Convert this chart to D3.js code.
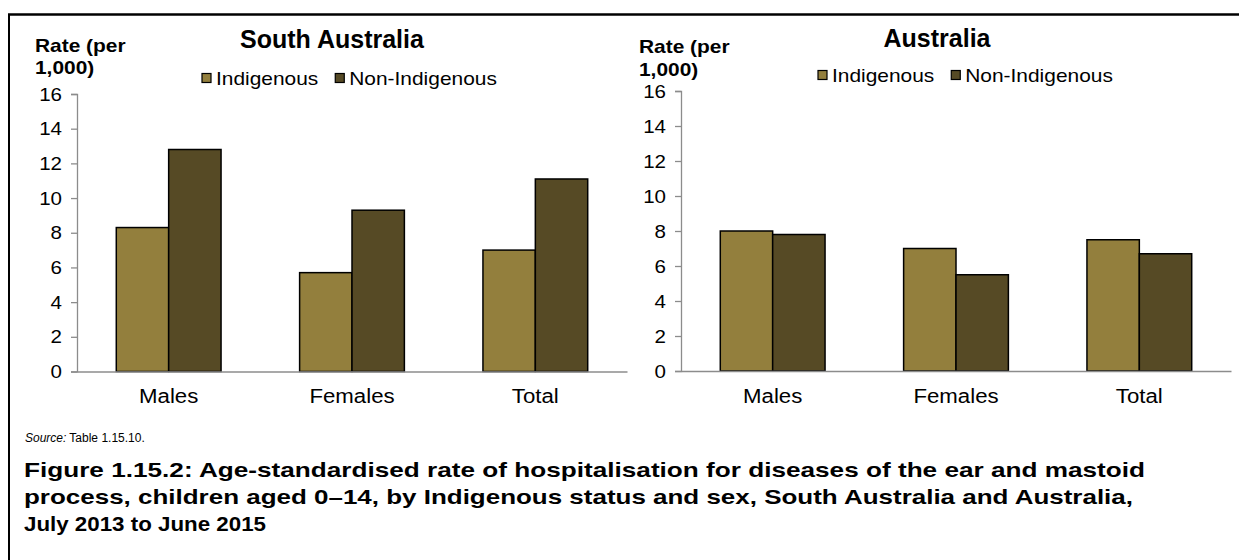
<!DOCTYPE html>
<html>
<head>
<meta charset="utf-8">
<script src="https://cdn.jsdelivr.net/npm/d3@7"></script>
<style>
  html, body { margin: 0; padding: 0; background: #fff; }
  svg { display: block; font-family: Arial, "Liberation Sans", sans-serif; }
</style>
</head>
<body>
<svg id="chart" width="1239" height="560"></svg>
<script>
// ---- data ----
const categories = ["Males", "Females", "Total"];
const seriesNames = ["Indigenous", "Non-Indigenous"];
const saIndigenous = [8.3, 5.7, 7.0];
const saNonIndigenous = [12.8, 9.3, 11.1];
const ausIndigenous = [8.0, 7.0, 7.5];
const ausNonIndigenous = [7.8, 5.5, 6.7];
const yTicks = [0, 2, 4, 6, 8, 10, 12, 14, 16];
const panelTitles = ["South Australia", "Australia"];
const yAxisTitle = ["Rate (per", "1,000)"];
const sourceNote = ["Source:", "Table 1.15.10."];
const captionLines = [
  "Figure 1.15.2: Age-standardised rate of hospitalisation for diseases of the ear and mastoid",
  "process, children aged 0\u201314, by Indigenous status and sex, South Australia and Australia,",
  "July 2013 to June 2015"
];

const colors = { "Indigenous": "#937f3d", "Non-Indigenous": "#564a25" };
const svg = d3.select("#chart");

// horizontal stretch helper (reference text is set wider than the font's natural width)
function stretch(sel, f) {
  sel.each(function () {
    const w = this.getComputedTextLength();
    d3.select(this).attr("textLength", w * f).attr("lengthAdjust", "spacingAndGlyphs");
  });
  return sel;
}

// outer frame (top and left rules)
svg.append("line").attr("x1", 8).attr("x2", 1239).attr("y1", 14.5).attr("y2", 14.5)
  .attr("stroke", "#000").attr("stroke-width", 2.5);
svg.append("line").attr("x1", 9).attr("x2", 9).attr("y1", 14).attr("y2", 560)
  .attr("stroke", "#000").attr("stroke-width", 2);

const panels = [
  { title: panelTitles[0], ind: saIndigenous, non: saNonIndigenous,
    x0: 77, x1: 627, yTop: 94, yBot: 371.5, titleX: 332, titleY: 48,
    rateX: 35, rateY: [52, 74], legX: 202, legY: 78 },
  { title: panelTitles[1], ind: ausIndigenous, non: ausNonIndigenous,
    x0: 681, x1: 1231, yTop: 91, yBot: 371, titleX: 937, titleY: 47,
    rateX: 639, rateY: [53, 76], legX: 818, legY: 75 }
];

panels.forEach(p => {
  const g = svg.append("g");
  const x = d3.scaleBand().domain(categories).range([p.x0, p.x1]).padding(0);
  const bw = x.bandwidth();
  const xs = d3.scaleBand().domain(seriesNames)
    .range([bw * 0.75 / 3.5, bw * 2.75 / 3.5]).padding(0);
  const y = d3.scaleLinear().domain([0, 16]).range([p.yBot, p.yTop]);

  // y axis
  const yAx = g.append("g").attr("transform", `translate(${p.x0},0)`)
    .call(d3.axisLeft(y).tickValues(yTicks).tickSize(6).tickPadding(9));
  yAx.select(".domain").attr("stroke", "#8c8c8c").attr("stroke-width", 1.3);
  yAx.selectAll(".tick line").attr("stroke", "#8c8c8c").attr("stroke-width", 1.3);
  const yt = yAx.selectAll(".tick text").attr("font-size", 19).attr("fill", "#000")
    .attr("font-family", "Arial, 'Liberation Sans', sans-serif");
  stretch(yt, 1.08);

  // bars
  const data = [];
  categories.forEach((c, i) => {
    data.push({ cat: c, s: "Indigenous", v: p.ind[i] });
    data.push({ cat: c, s: "Non-Indigenous", v: p.non[i] });
  });
  g.selectAll("rect.bar").data(data).enter().append("rect")
    .attr("class", "bar")
    .attr("x", d => x(d.cat) + xs(d.s))
    .attr("y", d => y(d.v))
    .attr("width", xs.bandwidth())
    .attr("height", d => y(0) - y(d.v))
    .attr("fill", d => colors[d.s])
    .attr("stroke", "#000").attr("stroke-width", 1.5);

  // x axis
  const xAx = g.append("g").attr("transform", `translate(0,${p.yBot})`)
    .call(d3.axisBottom(x).tickSize(0).tickPadding(18).tickSizeOuter(0));
  xAx.select(".domain").attr("stroke", "#8c8c8c").attr("stroke-width", 1.3);
  const xt = xAx.selectAll(".tick text").attr("font-size", 19.5).attr("fill", "#000")
    .attr("font-family", "Arial, 'Liberation Sans', sans-serif");
  stretch(xt, 1.14);

  // title
  g.append("text").attr("x", p.titleX).attr("y", p.titleY)
    .attr("text-anchor", "middle").attr("font-weight", "bold").attr("font-size", 25)
    .text(p.title);

  // y axis title
  yAxisTitle.forEach((t, i) => {
    stretch(g.append("text").attr("x", p.rateX).attr("y", p.rateY[i])
      .attr("font-weight", "bold").attr("font-size", 19).text(t), 1.1);
  });

  // legend
  const leg = g.append("g").attr("transform", `translate(${p.legX},${p.legY})`);
  let lx = 0;
  seriesNames.forEach((s, i) => {
    leg.append("rect").attr("x", lx).attr("y", -4.5).attr("width", 9).attr("height", 9)
      .attr("fill", colors[s]).attr("stroke", "#000").attr("stroke-width", 1.2);
    const t = leg.append("text").attr("x", lx + 14).attr("y", 0).attr("dy", "0.35em")
      .attr("font-size", 19).text(s);
    stretch(t, 1.1);
    lx += 14 + (+t.attr("textLength")) + 17;
  });
});

// source note (two separate texts so nothing overlaps)
const srcA = svg.append("text").attr("x", 25).attr("y", 442).attr("font-size", 12)
  .attr("font-style", "italic").text(sourceNote[0]);
const srcW = srcA.node().getComputedTextLength();
svg.append("text").attr("x", 25 + srcW + 3).attr("y", 442).attr("font-size", 12)
  .text(sourceNote[1]);

// caption
const capWidths = [1121, 1109, 242];
captionLines.forEach((t, i) => {
  svg.append("text").attr("x", 24).attr("y", 477 + i * 27)
    .attr("font-weight", "bold").attr("font-size", 21)
    .attr("textLength", capWidths[i]).attr("lengthAdjust", "spacingAndGlyphs")
    .text(t);
});
</script>
</body>
</html>
